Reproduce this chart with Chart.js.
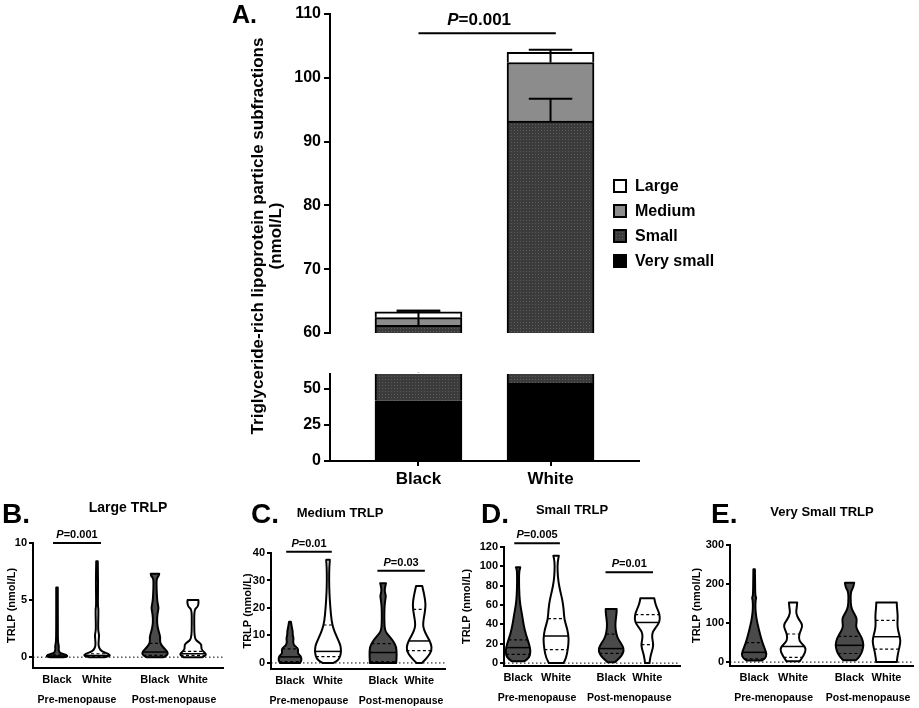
<!DOCTYPE html>
<html>
<head>
<meta charset="utf-8">
<script src="https://cdn.jsdelivr.net/npm/chart.js@4.4.0/dist/chart.umd.min.js"></script>
<style>
  body { margin: 0; background: #fff; }
  #wrap { position: relative; width: 919px; height: 708px; }
  canvas { position: absolute; left: 0; top: 0; }
</style>
</head>
<body>
<div id="wrap">
  <canvas id="aTop" width="919" height="708"></canvas>
  <canvas id="aBot" width="919" height="708"></canvas>
  <canvas id="pB" width="919" height="708"></canvas>
  <canvas id="pC" width="919" height="708"></canvas>
  <canvas id="pD" width="919" height="708"></canvas>
  <canvas id="pE" width="919" height="708"></canvas>
</div>
<script>
// ---- panel A : stacked bars ----
const groups = ['Black', 'White'];
const fractions = ['Very small', 'Small', 'Medium', 'Large'];
const verySmall = [41.5, 53.5];
const small = [19.7, 39.7];
const medium = [1.2, 9.2];
const large = [0.9, 1.6];
const smallErr = [2.3, 3.5];
const mediumErr = [0, 2.0];
const largeErr = [0.2, 0];
const upperTicks = [60, 70, 80, 90, 100, 110];
const lowerTicks = [0, 25, 50];
const pA = [[0, 1.04, 107, '0.001']];
const yTitleA = ['Triglyceride-rich lipoprotein particle subfractions', '(nmol/L)'];

// ---- panels B-E : violins ----
const violinCats = ['Black', 'White', 'Black', 'White'];
const violinPos = [0, 1, 2.45, 3.4];
const periods = ['Pre-menopause', 'Post-menopause'];
const periodPos = [0.5, 2.925];

// profiles: [value, relative half width]
const largeTicks = [0, 5, 10];
const largeProfiles = [
  [[0, 0.35], [0.05, 0.55], [0.2, 0.5], [0.35, 0.15], [0.6, 0.08], [1, 0.1], [1.3, 0.05], [2.5, 0.04], [6.1, 0.04]],
  [[0, 0.4], [0.1, 0.7], [0.3, 0.6], [0.5, 0.25], [0.8, 0.1], [1.2, 0.07], [2, 0.12], [2.3, 0.05], [4.2, 0.08], [4.5, 0.04], [6.5, 0.06], [8.4, 0.04]],
  [[0, 0.45], [0.2, 0.67], [0.5, 0.65], [0.9, 0.4], [1.3, 0.25], [1.8, 0.28], [2.3, 0.18], [3, 0.1], [3.8, 0.12], [4.3, 0.2], [4.8, 0.12], [6, 0.08], [6.9, 0.08], [7.1, 0.2], [7.3, 0.22]],
  [[0, 0.5], [0.2, 0.7], [0.4, 0.6], [0.7, 0.42], [1.1, 0.45], [1.3, 0.3], [1.6, 0.08], [3, 0.06], [4.2, 0.07], [4.4, 0.25], [4.8, 0.3], [5.0, 0.28]]
];
const largeStats = [[0.05, 0.1, 0.2], [0.05, 0.15, 0.3], [0.15, 0.45, 1.2], [0.15, 0.3, 0.5]];
const largeP = [[-0.1, 1.1, 10, '0.001']];

const mediumTicks = [0, 10, 20, 30, 40];
const mediumProfiles = [
  [[0, 0.55], [1, 0.64], [2.5, 0.6], [3.5, 0.42], [4.5, 0.45], [5.5, 0.42], [6.5, 0.2], [8, 0.17], [9, 0.2], [10, 0.15], [11.5, 0.15], [13, 0.1], [15, 0.05]],
  [[0, 0.3], [1, 0.55], [2.5, 0.68], [4.5, 0.72], [6.5, 0.68], [8, 0.58], [10, 0.45], [12, 0.32], [15, 0.2], [20, 0.13], [25, 0.08], [30, 0.06], [35, 0.07], [37.5, 0.1]],
  [[0, 0.72], [3, 0.75], [6, 0.72], [8, 0.55], [10, 0.3], [11.5, 0.12], [14, 0.07], [20, 0.07], [23, 0.12], [24.5, 0.16], [26, 0.08], [28, 0.12], [29, 0.16]],
  [[0, 0.15], [2, 0.45], [4.5, 0.7], [7, 0.65], [9, 0.5], [11, 0.33], [13, 0.22], [15, 0.22], [18, 0.3], [21, 0.36], [24, 0.3], [26.5, 0.22], [28, 0.17]]
];
const mediumStats = [[0.5, 2.2, 5.1], [2.3, 4.2, 13.8], [0.5, 3.8, 7], [4.5, 8, 19.5]];
const mediumP = [[-0.1, 1.1, 40.5, '0.01'], [2.3, 3.55, 33.5, '0.03']];

const smallTicks = [0, 20, 40, 60, 80, 100, 120];
const smallProfiles = [
  [[2, 0.35], [5, 0.6], [12, 0.7], [20, 0.6], [30, 0.42], [40, 0.3], [50, 0.22], [60, 0.12], [70, 0.07], [85, 0.05], [96, 0.06], [99, 0.12]],
  [[0, 0.4], [5, 0.55], [15, 0.65], [25, 0.7], [35, 0.62], [45, 0.45], [55, 0.42], [65, 0.35], [75, 0.22], [85, 0.12], [95, 0.08], [105, 0.08], [111, 0.15]],
  [[1, 0.2], [5, 0.45], [10, 0.65], [15, 0.7], [20, 0.55], [25, 0.38], [30, 0.28], [38, 0.22], [45, 0.25], [52, 0.3], [56, 0.3]],
  [[0, 0.12], [8, 0.18], [15, 0.3], [20, 0.33], [27, 0.25], [33, 0.3], [40, 0.6], [45, 0.7], [52, 0.65], [58, 0.5], [63, 0.42], [67, 0.38]]
];
const smallStats = [[9, 16, 24], [14, 28, 46], [10, 15, 30], [19, 42, 50]];
const smallP = [[-0.1, 1.1, 124, '0.005'], [2.3, 3.55, 94, '0.01']];

const verySmallTicks = [0, 100, 200, 300];
const verySmallProfiles = [
  [[4, 0.4], [10, 0.6], [20, 0.67], [30, 0.6], [45, 0.48], [60, 0.38], [75, 0.3], [90, 0.22], [105, 0.15], [120, 0.1], [140, 0.06], [160, 0.08], [165, 0.12], [170, 0.06], [200, 0.05], [238, 0.04]],
  [[2, 0.35], [15, 0.55], [35, 0.72], [50, 0.4], [60, 0.3], [75, 0.35], [90, 0.5], [100, 0.45], [110, 0.3], [125, 0.15], [140, 0.2], [153, 0.22]],
  [[5, 0.35], [15, 0.55], [30, 0.7], [45, 0.75], [60, 0.68], [75, 0.5], [85, 0.38], [95, 0.35], [110, 0.4], [120, 0.3], [135, 0.12], [150, 0.06], [180, 0.06], [190, 0.2], [203, 0.25]],
  [[0, 0.55], [20, 0.6], [40, 0.7], [55, 0.75], [70, 0.68], [85, 0.6], [100, 0.58], [115, 0.6], [130, 0.58], [145, 0.55], [153, 0.55]]
];
const verySmallStats = [[8, 25, 50], [12, 40, 72], [22, 43, 66], [33, 65, 107]];
const verySmallP = [];

const FONT = '"Liberation Sans", Arial, sans-serif';
Chart.defaults.font.family = FONT;
Chart.defaults.color = '#000';

// dotted dark fill for the "Small" fraction
const pc = document.createElement('canvas');
pc.width = 3; pc.height = 3;
const pg = pc.getContext('2d');
pg.fillStyle = '#3b3b3b'; pg.fillRect(0, 0, 3, 3);
pg.fillStyle = '#5c5c5c'; pg.fillRect(1, 1, 1, 1);
const smallFill = pg.createPattern(pc, 'repeat');
const fracColors = ['#000000', smallFill, '#8c8c8c', '#ffffff'];

function drawP(ctx, x1, x2, yPix, label, size, shift) {
  ctx.strokeStyle = '#000'; ctx.lineWidth = 2; ctx.setLineDash([]);
  ctx.beginPath(); ctx.moveTo(x1, yPix); ctx.lineTo(x2, yPix); ctx.stroke();
  const fI = 'italic bold ' + size + 'px ' + FONT, fB = 'bold ' + size + 'px ' + FONT;
  ctx.font = fI; const w1 = ctx.measureText('P').width;
  ctx.font = fB; const w2 = ctx.measureText('=' + label).width;
  let sx = (x1 + x2) / 2 - (w1 + w2) / 2 + (shift || 0);
  ctx.textAlign = 'left'; ctx.textBaseline = 'alphabetic'; ctx.fillStyle = '#000';
  ctx.font = fI; ctx.fillText('P', sx, yPix - size * 0.45);
  ctx.font = fB; ctx.fillText('=' + label, sx + w1, yPix - size * 0.45);
}

const errPlugin = {
  id: 'errbars',
  afterDatasetsDraw(chart) {
    const { ctx, chartArea: a, scales: { y } } = chart;
    ctx.save();
    ctx.beginPath(); ctx.rect(a.left, a.top - 2, a.right - a.left, a.bottom - a.top + 2); ctx.clip();
    ctx.strokeStyle = '#000'; ctx.lineWidth = 2;
    [[1, smallErr], [2, mediumErr], [3, largeErr]].forEach(([di, errs]) => {
      chart.getDatasetMeta(di).data.forEach((bar, i) => {
        if (!errs[i]) return;
        const top = y.getPixelForValue(y.getValueForPixel(bar.y) + errs[i]);
        const cw = bar.width * 0.25;
        ctx.beginPath();
        ctx.moveTo(bar.x, bar.y); ctx.lineTo(bar.x, top);
        ctx.moveTo(bar.x - cw, top); ctx.lineTo(bar.x + cw, top);
        ctx.stroke();
      });
    });
    ctx.restore();
  }
};

const annotA = {
  id: 'annotA',
  afterDraw(chart) {
    const { ctx, scales: { x, y } } = chart;
    ctx.save();
    pA.forEach(([f, t, v, lab]) => drawP(ctx, x.getPixelForValue(f), x.getPixelForValue(t), y.getPixelForValue(v), lab, 17, -8));
    ctx.fillStyle = '#000';
    ctx.font = 'bold 25px ' + FONT; ctx.textAlign = 'left'; ctx.textBaseline = 'alphabetic';
    ctx.fillText('A.', 232, 23);
    ctx.font = 'bold 17px ' + FONT; ctx.textAlign = 'center'; ctx.textBaseline = 'middle';
    yTitleA.forEach((t, i) => {
      ctx.save(); ctx.translate(258 + i * 18, 236); ctx.rotate(-Math.PI / 2);
      ctx.fillText(t, 0, 0); ctx.restore();
    });
    // legend, largest fraction first
    ctx.font = 'bold 16px ' + FONT; ctx.textAlign = 'left';
    for (let k = fractions.length - 1, r = 0; k >= 0; k--, r++) {
      const cy = 186 + r * 25;
      ctx.fillStyle = fracColors[k]; ctx.fillRect(613, cy - 7, 14, 14);
      ctx.strokeStyle = '#000'; ctx.lineWidth = 2; ctx.strokeRect(614, cy - 6, 12, 12);
      ctx.fillStyle = '#000'; ctx.fillText(fractions[k], 635, cy + 1);
    }
    ctx.restore();
  }
};

function barData() {
  return {
    datasets: [verySmall, small, medium, large].map((vals, k) => ({
      label: fractions[k],
      data: vals.map((v, i) => ({ x: i, y: v })),
      backgroundColor: fracColors[k],
      borderColor: '#000',
      borderWidth: 2,
      barThickness: 87,
      clip: { left: 5, right: 5, top: 0, bottom: 0 }
    }))
  };
}

function barOptions(yMin, yMax, ticks, pad, showX) {
  return {
    responsive: false, animation: false,
    layout: { padding: pad },
    plugins: { legend: { display: false }, tooltip: { enabled: false } },
    scales: {
      x: {
        type: 'linear', min: -0.67, max: 1.67, stacked: true, offset: false, display: showX,
        afterBuildTicks: s => { s.ticks = groups.map((g, i) => ({ value: i })); },
        afterFit: s => { s.height = 30; },
        grid: { display: true, offset: false, drawOnChartArea: false, tickLength: 5, color: '#000', lineWidth: 2 },
        border: { color: '#000', width: 2 },
        ticks: { autoSkip: false, maxRotation: 0, padding: 3, font: { size: 17, weight: 'bold' }, callback: (v, i) => groups[i] }
      },
      y: {
        min: yMin, max: yMax, stacked: true,
        afterBuildTicks: s => { s.ticks = ticks.map(v => ({ value: v })); },
        afterFit: s => { s.width = 60; },
        grid: { display: true, drawOnChartArea: false, tickLength: 6, color: '#000', lineWidth: 2 },
        border: { color: '#000', width: 2 },
        ticks: { padding: 3, font: { size: 16, weight: 'bold' } }
      }
    }
  };
}

new Chart(document.getElementById('aTop'), {
  type: 'bar', data: barData(),
  options: barOptions(60, 110, upperTicks, { left: 270, right: 280, top: 14, bottom: 345 }, false),
  plugins: [errPlugin, annotA]
});
new Chart(document.getElementById('aBot'), {
  type: 'bar', data: barData(),
  options: barOptions(0, 60, lowerTicks, { left: 270, right: 280, top: 374, bottom: 217 }, true),
  plugins: [errPlugin]
});

// ---- violin panels ----
function densAt(prof, v) {
  if (v <= prof[0][0]) return prof[0][1];
  for (let k = 1; k < prof.length; k++) {
    if (v <= prof[k][0]) {
      const [y0, d0] = prof[k - 1], [y1, d1] = prof[k];
      return d0 + (d1 - d0) * (v - y0) / (y1 - y0);
    }
  }
  return prof[prof.length - 1][1];
}

// smooth side through the midpoints, ends kept on the real points
function smoothSide(ctx, pts, first) {
  if (first) ctx.moveTo(pts[0][0], pts[0][1]); else ctx.lineTo(pts[0][0], pts[0][1]);
  for (let k = 1; k < pts.length - 1; k++) {
    const mx = (pts[k][0] + pts[k + 1][0]) / 2, my = (pts[k][1] + pts[k + 1][1]) / 2;
    ctx.quadraticCurveTo(pts[k][0], pts[k][1], mx, my);
  }
  const last = pts[pts.length - 1];
  ctx.lineTo(last[0], last[1]);
}

function violinPlugin(p) {
  return {
    id: 'violins',
    beforeDatasetsDraw(chart) {
      const { ctx, chartArea: a, scales: { y } } = chart;
      const y0 = y.getPixelForValue(0);
      ctx.save();
      ctx.strokeStyle = '#000'; ctx.lineWidth = 1; ctx.setLineDash([1.5, 2.5]);
      ctx.beginPath(); ctx.moveTo(a.left, y0); ctx.lineTo(a.right, y0); ctx.stroke();
      ctx.restore();
    },
    afterDatasetsDraw(chart) {
      const { ctx, scales: { x, y } } = chart;
      const hw = 0.48 * (x.getPixelForValue(1) - x.getPixelForValue(0));
      ctx.save();
      ctx.lineJoin = 'round';
      p.profiles.forEach((prof, i) => {
        const cx = x.getPixelForValue(violinPos[i]);
        const left = prof.map(([v, d]) => [cx - d * hw, y.getPixelForValue(v)]);
        const right = prof.map(([v, d]) => [cx + d * hw, y.getPixelForValue(v)]).reverse();
        ctx.beginPath();
        smoothSide(ctx, left, true);
        smoothSide(ctx, right, false);
        ctx.closePath();
        ctx.fillStyle = i % 2 === 0 ? '#4a4a4a' : '#ffffff';
        ctx.fill();
        ctx.strokeStyle = '#000'; ctx.lineWidth = 2; ctx.setLineDash([]);
        ctx.stroke();
        p.stats[i].forEach((v, k) => {
          const w = densAt(prof, v) * hw, py = y.getPixelForValue(v);
          ctx.lineWidth = k === 1 ? 1.5 : 1.2;
          ctx.setLineDash(k === 1 ? [] : [3, 2.5]);
          ctx.beginPath(); ctx.moveTo(cx - w, py); ctx.lineTo(cx + w, py); ctx.stroke();
        });
      });
      ctx.setLineDash([]);
      p.pvals.forEach(([f, t, v, lab]) => drawP(ctx, x.getPixelForValue(f), x.getPixelForValue(t), y.getPixelForValue(v), lab, 11, 0));
      ctx.fillStyle = '#000'; ctx.textBaseline = 'alphabetic';
      ctx.font = 'bold 28px ' + FONT; ctx.textAlign = 'left';
      ctx.fillText(p.letter, p.letterX, 523);
      ctx.font = 'bold ' + p.titleSize + 'px ' + FONT; ctx.textAlign = 'center'; ctx.textBaseline = 'middle';
      ctx.fillText(p.title, p.titleX, p.titleY);
      ctx.restore();
    }
  };
}

function violinChart(id, p) {
  const pad = { left: p.left - p.yw, right: 919 - p.right, top: p.top, bottom: 708 - p.bottom - 41 };
  new Chart(document.getElementById(id), {
    type: 'scatter',
    data: { datasets: [{ data: p.stats.map((s, i) => ({ x: violinPos[i], y: s[1] })), pointRadius: 0 }] },
    options: {
      responsive: false, animation: false,
      layout: { padding: pad },
      plugins: { legend: { display: false }, tooltip: { enabled: false } },
      scales: {
        x: {
          type: 'linear', position: 'bottom', min: p.xmin, max: p.xmax, weight: 0,
          afterBuildTicks: s => { s.ticks = violinPos.map(v => ({ value: v })); },
          afterFit: s => { s.height = 20; },
          grid: { display: false, drawTicks: false, tickLength: 0 },
          border: { color: '#000', width: 2 },
          ticks: { autoSkip: false, maxRotation: 0, padding: 5, font: { size: 11, weight: 'bold' }, callback: (v, i) => violinCats[i] }
        },
        x2: {
          type: 'linear', position: 'bottom', min: p.xmin, max: p.xmax, weight: 1,
          afterBuildTicks: s => { s.ticks = periodPos.map(v => ({ value: v })); },
          afterFit: s => { s.height = 21; },
          grid: { display: false, drawTicks: false, tickLength: 0 },
          border: { display: false },
          ticks: { autoSkip: false, maxRotation: 0, padding: 6, font: { size: 10.5, weight: 'bold' }, callback: (v, i) => periods[i] }
        },
        y: {
          min: p.ymin, max: p.ymax,
          afterBuildTicks: s => { s.ticks = p.ticks.map(v => ({ value: v })); },
          afterFit: s => { s.width = p.yw; },
          grid: { display: true, drawOnChartArea: false, tickLength: 4, color: '#000', lineWidth: 2 },
          border: { color: '#000', width: 2 },
          ticks: { padding: 2, font: { size: 11, weight: 'bold' } },
          title: { display: true, text: 'TRLP (nmol/L)', padding: { top: 0, bottom: 0 }, font: { size: 11, weight: 'bold' } }
        }
      }
    },
    plugins: [violinPlugin(p)]
  });
}

violinChart('pB', { profiles: largeProfiles, stats: largeStats, pvals: largeP, ticks: largeTicks,
  ymin: -0.95, ymax: 10, xmin: -0.6, xmax: 4.15, left: 33, right: 223, top: 543, bottom: 668, yw: 28,
  letter: 'B.', letterX: 2, title: 'Large TRLP', titleX: 128, titleY: 508, titleSize: 14 });
violinChart('pC', { profiles: mediumProfiles, stats: mediumStats, pvals: mediumP, ticks: mediumTicks,
  ymin: -2.2, ymax: 40, xmin: -0.5, xmax: 4.08, left: 271, right: 445, top: 553, bottom: 669, yw: 30,
  letter: 'C.', letterX: 251, title: 'Medium TRLP', titleX: 340, titleY: 513, titleSize: 13 });
violinChart('pD', { profiles: smallProfiles, stats: smallStats, pvals: smallP, ticks: smallTicks,
  ymin: -3, ymax: 120, xmin: -0.37, xmax: 4.26, left: 504, right: 680, top: 547, bottom: 666, yw: 44,
  letter: 'D.', letterX: 481, title: 'Small TRLP', titleX: 572, titleY: 510, titleSize: 13 });
violinChart('pE', { profiles: verySmallProfiles, stats: verySmallStats, pvals: verySmallP, ticks: verySmallTicks,
  ymin: -10, ymax: 300, xmin: -0.62, xmax: 4.08, left: 730, right: 913, top: 545, bottom: 666, yw: 40,
  letter: 'E.', letterX: 711, title: 'Very Small TRLP', titleX: 822, titleY: 512, titleSize: 13 });
</script>
</body>
</html>
